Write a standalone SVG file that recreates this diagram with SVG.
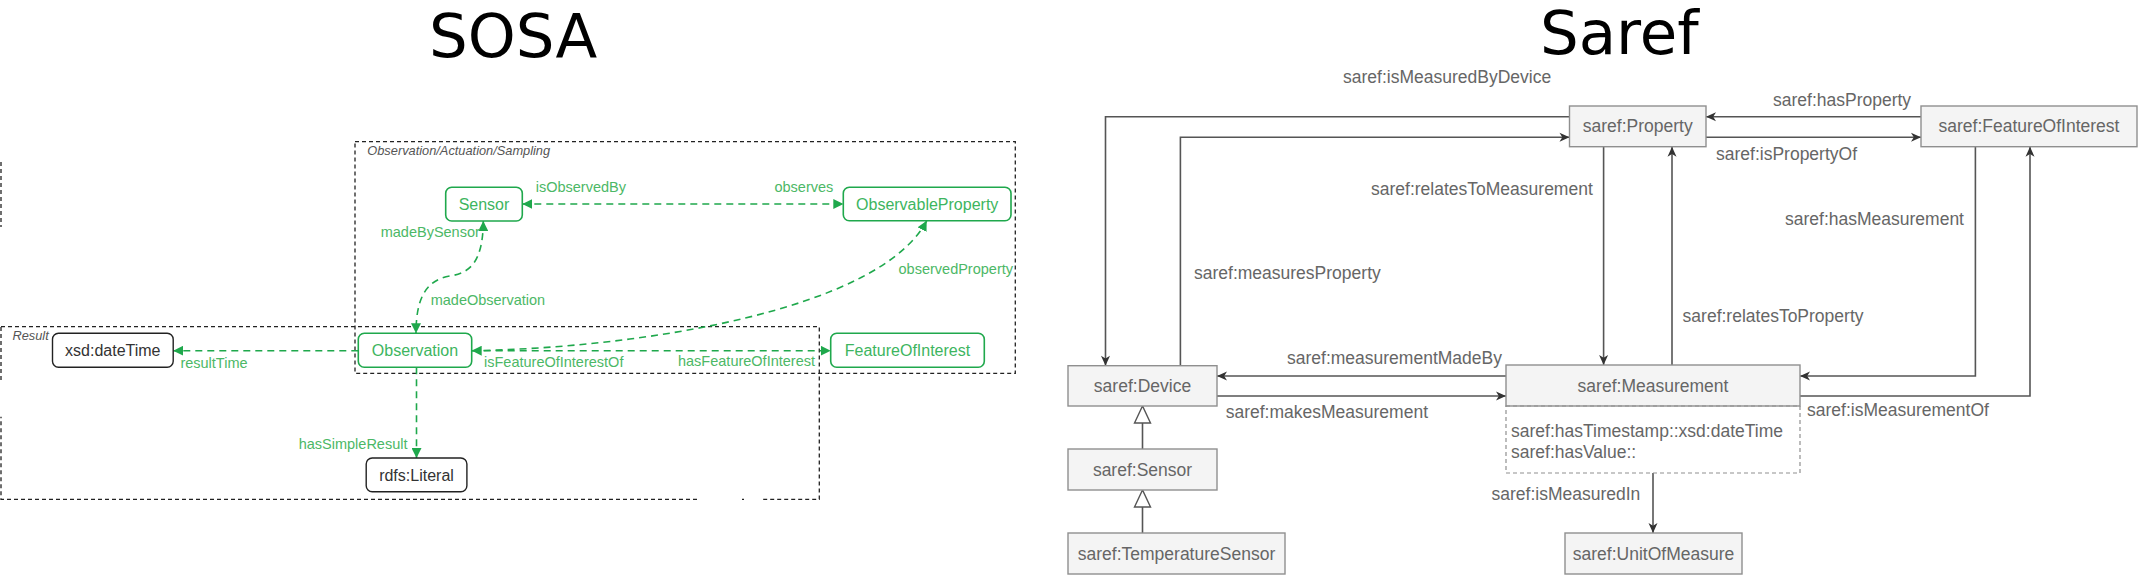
<svg xmlns="http://www.w3.org/2000/svg" width="2139" height="576" viewBox="0 0 2139 576">
<style>
.title{font-family:"DejaVu Sans",sans-serif;font-size:61px;fill:#000}
.gnode{fill:#fff;stroke:#1fa84c;stroke-width:1.6}
.bnode{fill:#fff;stroke:#222;stroke-width:1.4}
.gtxt{font-family:"Liberation Sans",Arial,sans-serif;font-size:16px;fill:#3db560;text-anchor:middle}
.btxt{font-family:"Liberation Sans",Arial,sans-serif;font-size:16px;fill:#333;text-anchor:middle}
.glbl{font-family:"Liberation Sans",Arial,sans-serif;font-size:14.5px;fill:#4cb866}
.cont{fill:none;stroke:#222;stroke-width:1.3;stroke-dasharray:4 3}
.ctxt{font-family:"Liberation Sans",Arial,sans-serif;font-size:12.8px;font-style:italic;fill:#555}
.gline{fill:none;stroke:#1fa84c;stroke-width:1.6;stroke-dasharray:7 5}
.snode{fill:#f4f4f4;stroke:#8f8f8f;stroke-width:1.4}
.stxt{font-family:"Liberation Sans",Arial,sans-serif;font-size:17.5px;fill:#666;text-anchor:middle}
.slbl{font-family:"Liberation Sans",Arial,sans-serif;font-size:17.5px;fill:#666}
.sline{fill:none;stroke:#555;stroke-width:1.6}
.sattr{fill:none;stroke:#8f8f8f;stroke-width:1.2;stroke-dasharray:4 3}
</style>
<defs>
<marker id="ga" viewBox="0 0 10 10" refX="10" refY="5" markerWidth="10" markerHeight="10" markerUnits="userSpaceOnUse" orient="auto-start-reverse">
<path d="M0,0 L10,5 L0,10 z" fill="#1fa84c"/>
</marker>
<marker id="sa" viewBox="0 0 10 10" refX="10" refY="5" markerWidth="11" markerHeight="10" markerUnits="userSpaceOnUse" orient="auto-start-reverse">
<path d="M0,0.5 L10,5 L0,9.5 L2.8,5 z" fill="#333"/>
</marker>
</defs>

<text class="title" x="429" y="57">SOSA</text>
<text class="title" x="1540" y="54">Saref</text>

<!-- SOSA containers -->
<g id="container-oas">
<rect class="cont" x="355" y="141.7" width="660.3" height="231.6"/>
<text class="ctxt" x="367.3" y="155.3">Observation/Actuation/Sampling</text>
</g>
<g id="container-result">
<path class="cont" d="M1,326.7 H819.3 V499.3 H762 M744,499.3 H742 M697,499.3 H1 V416.7 M1,380 V326.7"/>
<text class="ctxt" x="12.5" y="340">Result</text>
</g>
<path class="cont" d="M1,162 V227"/>

<!-- SOSA connectors -->
<g id="sosa-connectors">
<path class="gline" d="M522.3,204 H843.3" marker-start="url(#ga)" marker-end="url(#ga)"/>
<path class="gline" d="M483.3,221 C483,262 470,273 450,276 C425,280 416,300 416,333.3" marker-start="url(#ga)" marker-end="url(#ga)"/>
<path class="gline" d="M471.7,350.7 C640,348 880,310 926.7,220.7" marker-end="url(#ga)"/>
<path class="gline" d="M471.7,350.7 H830.7" marker-start="url(#ga)" marker-end="url(#ga)"/>
<path class="gline" d="M358.3,350.7 H173.2" marker-end="url(#ga)"/>
<path class="gline" d="M416.5,367.3 V458" marker-end="url(#ga)"/>
<text class="glbl" x="535.7" y="191.7">isObservedBy</text>
<text class="glbl" x="833.3" y="192.3" text-anchor="end">observes</text>
<text class="glbl" x="380.7" y="237.3">madeBySensor</text>
<text class="glbl" x="430.7" y="305">madeObservation</text>
<text class="glbl" x="1013" y="274.3" text-anchor="end">observedProperty</text>
<text class="glbl" x="484" y="367.3">isFeatureOfInterestOf</text>
<text class="glbl" x="815" y="365.7" text-anchor="end">hasFeatureOfInterest</text>
<text class="glbl" x="180.4" y="367.7">resultTime</text>
<text class="glbl" x="407.5" y="449" text-anchor="end">hasSimpleResult</text>
</g>

<!-- SOSA nodes -->
<g id="sosa-sensor">
<rect class="gnode" x="445.7" y="187.3" width="76.6" height="33.7" rx="6"/>
<text class="gtxt" x="484" y="209.8">Sensor</text>
</g>
<g id="sosa-observableproperty">
<rect class="gnode" x="843.3" y="187.3" width="167.7" height="33.4" rx="6"/>
<text class="gtxt" x="927.2" y="209.6">ObservableProperty</text>
</g>
<g id="sosa-observation">
<rect class="gnode" x="358.3" y="333.3" width="113.4" height="34" rx="6"/>
<text class="gtxt" x="415" y="356">Observation</text>
</g>
<g id="sosa-featureofinterest">
<rect class="gnode" x="830.7" y="333.3" width="153.6" height="34" rx="6"/>
<text class="gtxt" x="907.5" y="356">FeatureOfInterest</text>
</g>
<g id="sosa-datetime">
<rect class="bnode" x="52.5" y="333.3" width="120.7" height="34" rx="6"/>
<text class="btxt" x="112.8" y="356">xsd:dateTime</text>
</g>
<g id="sosa-literal">
<rect class="bnode" x="366.2" y="458" width="100.7" height="33.7" rx="6"/>
<text class="btxt" x="416.5" y="480.5">rdfs:Literal</text>
</g>

<!-- Saref connectors -->
<g id="saref-connectors">
<path class="sline" d="M1569.5,116.7 H1105.5 V365.7" marker-end="url(#sa)"/>
<path class="sline" d="M1180.4,365.7 V137.3 H1569.5" marker-end="url(#sa)"/>
<path class="sline" d="M1921,116.7 H1706" marker-end="url(#sa)"/>
<path class="sline" d="M1706,137.3 H1921" marker-end="url(#sa)"/>
<path class="sline" d="M1603.6,146.7 V365" marker-end="url(#sa)"/>
<path class="sline" d="M1672,365 V146.7" marker-end="url(#sa)"/>
<path class="sline" d="M1975.4,146.7 V376 H1800" marker-end="url(#sa)"/>
<path class="sline" d="M1800,396 H2030 V146.7" marker-end="url(#sa)"/>
<path class="sline" d="M1506,376 H1217" marker-end="url(#sa)"/>
<path class="sline" d="M1217,396 H1506" marker-end="url(#sa)"/>
<path class="sline" d="M1653,473 V533" marker-end="url(#sa)"/>
<path class="sline" d="M1142.5,423 V449"/>
<polygon points="1142.5,406 1134.5,423 1150.5,423" fill="#fff" stroke="#555" stroke-width="1.4"/>
<path class="sline" d="M1142.5,507 V533"/>
<polygon points="1142.5,490 1134.5,507 1150.5,507" fill="#fff" stroke="#555" stroke-width="1.4"/>
<text class="slbl" x="1343" y="82.7">saref:isMeasuredByDevice</text>
<text class="slbl" x="1194" y="278.7">saref:measuresProperty</text>
<text class="slbl" x="1773" y="106">saref:hasProperty</text>
<text class="slbl" x="1716" y="160">saref:isPropertyOf</text>
<text class="slbl" x="1371" y="195">saref:relatesToMeasurement</text>
<text class="slbl" x="1682.6" y="321.7">saref:relatesToProperty</text>
<text class="slbl" x="1785" y="225">saref:hasMeasurement</text>
<text class="slbl" x="1807" y="416">saref:isMeasurementOf</text>
<text class="slbl" x="1287" y="364">saref:measurementMadeBy</text>
<text class="slbl" x="1225.7" y="417.7">saref:makesMeasurement</text>
<text class="slbl" x="1491.5" y="500">saref:isMeasuredIn</text>
</g>

<!-- Saref nodes -->
<g id="saref-property">
<rect class="snode" x="1569.5" y="106" width="136.5" height="40.7"/>
<text class="stxt" x="1637.7" y="132.3">saref:Property</text>
</g>
<g id="saref-featureofinterest">
<rect class="snode" x="1921" y="106" width="216" height="40.7"/>
<text class="stxt" x="2029" y="132.3">saref:FeatureOfInterest</text>
</g>
<g id="saref-device">
<rect class="snode" x="1068" y="365.7" width="149" height="40.3"/>
<text class="stxt" x="1142.5" y="391.8">saref:Device</text>
</g>
<g id="saref-sensor">
<rect class="snode" x="1068" y="449" width="149" height="41"/>
<text class="stxt" x="1142.5" y="475.5">saref:Sensor</text>
</g>
<g id="saref-temperaturesensor">
<rect class="snode" x="1068" y="533" width="217" height="41"/>
<text class="stxt" x="1176.5" y="559.5">saref:TemperatureSensor</text>
</g>
<g id="saref-measurement">
<rect class="snode" x="1506" y="365" width="294" height="41"/>
<text class="stxt" x="1653" y="391.5">saref:Measurement</text>
<rect class="sattr" x="1506" y="406" width="294" height="67"/>
<text class="slbl" x="1511" y="437">saref:hasTimestamp::xsd:dateTime</text>
<text class="slbl" x="1511" y="458">saref:hasValue::</text>
</g>
<g id="saref-unitofmeasure">
<rect class="snode" x="1565" y="533" width="177" height="41"/>
<text class="stxt" x="1653.5" y="559.5">saref:UnitOfMeasure</text>
</g>
</svg>
